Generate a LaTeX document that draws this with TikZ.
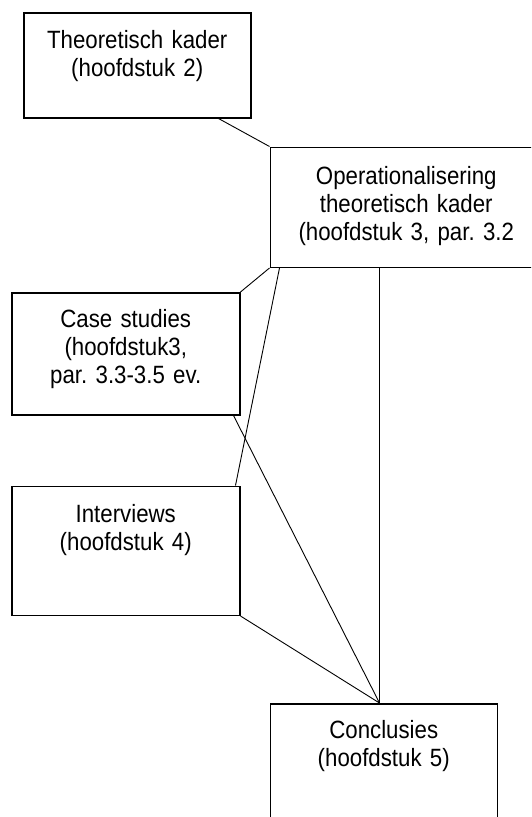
\documentclass[tikz,border=0pt]{standalone}
\usepackage{fontspec}
\setmainfont[FakeStretch=0.89]{Liberation Sans}
\usetikzlibrary{positioning}
\frenchspacing

\tikzset{
  blok/.style={draw, line width=1.5pt, inner sep=0pt, align=center,
    font=\fontsize{25}{28}\selectfont},
  lijn/.style={line width=0.9pt}
}

\begin{document}
\begin{tikzpicture}[x=1pt, y=-1pt]
      \useasboundingbox (0,0) rectangle (531,817);
      \clip (0,0) rectangle (531,817);

      \node [blok, anchor=north west, text width=227pt, text height=36pt, text depth=69pt]
        (theorie) at (23,12) {Theoretisch kader\\(hoofdstuk 2)};
      \node [blok, below right=28pt and 18pt of theorie.south east, text width=272pt, text height=37pt, text depth=83pt]
        (oper) {Operationalisering\\theoretisch kader\\(hoofdstuk 3, par. 3.2};
      \node [blok, below left=24pt and 29pt of oper.south west, text width=228pt, text height=35pt, text depth=87pt]
        (cases) {Case studies\\(hoofdstuk3,\\par. 3.3-3.5 ev.};
      \node [blok, below=70pt of cases, text width=228pt, text height=36pt, text depth=93pt]
        (interviews) {Interviews\\(hoofdstuk 4)};
      \node [blok, below right=87pt and 29pt of interviews.south east, text width=227pt, text height=35pt, text depth=150pt]
        (concl) {Conclusies\\(hoofdstuk 5)};

      \coordinate (samen) at ([xshift=110pt]concl.north west);

      \draw [lijn] ([xshift=-33pt]theorie.south east) -- (oper.north west);
      \draw [lijn] (oper.south west) -- (cases.north east);
      \draw [lijn] ([xshift=10pt]oper.south west) -- ([xshift=-5pt]interviews.north east);
      \draw [lijn] ([xshift=110pt]oper.south west) -- (samen);
      \draw [lijn] ([xshift=-7pt]cases.south east) -- (samen);
      \draw [lijn] (interviews.south east) -- (samen);
    \end{tikzpicture}
\end{document}
